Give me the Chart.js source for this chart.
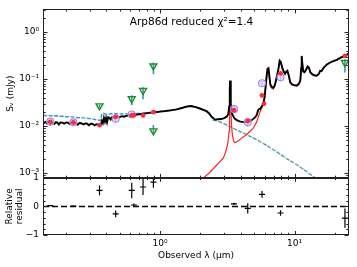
<!DOCTYPE html>
<html><head><meta charset="utf-8">
<script src="https://cdn.jsdelivr.net/npm/chart.js@4/dist/chart.umd.min.js"></script>
<style>html,body{margin:0;padding:0;background:#fff;}canvas{display:block;}</style>
</head><body>
<canvas id="c" width="357" height="267"></canvas>
<script>
// ---------- data ----------
const TITLE = 'Arp86d reduced χ²=1.4';
const X_MIN = 0.135, X_MAX = 25.4;
const Y_MIN = 7.9e-4, Y_MAX = 3.03;

// total model SED (wavelength µm, flux mJy)
const modelWave = [0.1356,0.138,0.141,0.144,0.147,0.150,0.153,0.156,0.160,0.164,0.168,0.172,0.177,0.182,0.188,0.194,0.200,0.207,0.214,0.221,0.228,0.236,0.244,0.252,0.260,0.269,0.278,0.287,0.296,0.306,0.316,0.326,0.336,0.346,0.356,0.364,0.370,0.376,0.383,0.390,0.397,0.404,0.412,0.42,0.43,0.44,0.45,0.46,0.47,0.485,0.50,0.52,0.54,0.56,0.58,0.60,0.63,0.66,0.70,0.75,0.80,0.86,0.92,1.0,1.1,1.2,1.33,1.45,1.6,1.7,1.85,1.98,2.1,2.22,2.32,2.42,2.56,2.7,2.85,3.0,3.13,3.22,3.27,3.30,3.32,3.34,3.37,3.41,3.47,3.58,3.72,3.9,4.16,4.41,4.66,4.9,5.1,5.24,5.34,5.42,5.55,5.7,5.86,5.98,6.1,6.2,6.3,6.4,6.5,6.6,6.75,6.96,7.15,7.37,7.58,7.75,7.9,8.1,8.3,8.5,8.65,8.85,9.05,9.3,9.6,10.0,10.4,10.8,11.05,11.2,11.3,11.4,11.6,11.85,12.2,12.5,12.8,13.1,13.5,14.0,14.6,15.2,15.5,15.9,16.5,17.4,18.4,19.4,20.6,22.0,23.1,24.5,26.0];
const modelFlux = [0.0124,0.0117,0.0122,0.0114,0.0121,0.0120,0.0110,0.0121,0.0119,0.0111,0.0120,0.0119,0.0108,0.0119,0.0118,0.0112,0.0119,0.0118,0.0110,0.0118,0.0117,0.0116,0.0107,0.0116,0.0115,0.0108,0.0114,0.0113,0.0104,0.0112,0.0111,0.0103,0.0109,0.0107,0.0103,0.0106,0.0128,0.0116,0.0150,0.0124,0.0148,0.0120,0.0154,0.0150,0.0138,0.0155,0.0156,0.0147,0.0157,0.0158,0.0154,0.0162,0.0158,0.0165,0.0167,0.0170,0.0172,0.0174,0.0178,0.0183,0.0188,0.0193,0.0197,0.0203,0.0209,0.0216,0.0226,0.0242,0.0262,0.0266,0.0252,0.0236,0.0221,0.0207,0.0186,0.0158,0.0137,0.0139,0.0141,0.0148,0.0158,0.0180,0.0260,0.0600,0.0926,0.0650,0.0300,0.0195,0.0170,0.0145,0.0134,0.0126,0.0121,0.0121,0.0127,0.0140,0.0155,0.0172,0.0210,0.0228,0.0232,0.0262,0.0300,0.0400,0.0700,0.1150,0.1650,0.1700,0.1150,0.0780,0.0680,0.0650,0.0760,0.1100,0.1600,0.2450,0.2300,0.1750,0.1450,0.1300,0.1420,0.1500,0.1200,0.0850,0.0770,0.0740,0.0730,0.0800,0.0950,0.1700,0.3100,0.2300,0.1450,0.1400,0.1600,0.1850,0.1750,0.1400,0.1270,0.1200,0.1180,0.1300,0.1500,0.1480,0.1750,0.2050,0.2250,0.2400,0.2550,0.2850,0.3050,0.3300,0.3650];

// dust emission component
const dustWave = [2.10,2.3,2.5,2.7,2.96,3.1,3.2,3.26,3.29,3.32,3.35,3.39,3.45,3.53,3.61,3.8,4.0,4.41,4.94,5.24,5.54,5.86,5.98,6.1,6.2,6.3,6.4,6.5,6.6,6.75,6.96,7.15,7.37,7.58,7.75,7.9,8.1,8.3,8.5,8.65,8.85,9.05,9.3,9.6,10.0,10.4,10.8,11.05,11.2,11.3,11.4,11.6,11.85,12.2,12.5,12.8,13.1,13.5,14.0,14.6,15.2,15.5,15.9,16.5,17.4,18.4,19.4,20.6,22.0,23.1,24.5,26.0];
const dustFlux = [0.00079,0.00098,0.00125,0.00158,0.0021,0.0030,0.0045,0.0075,0.030,0.079,0.040,0.012,0.0065,0.0048,0.0044,0.0048,0.0054,0.0066,0.0090,0.0124,0.0200,0.0285,0.0375,0.066,0.111,0.161,0.166,0.111,0.0745,0.0645,0.0615,0.0725,0.106,0.156,0.241,0.226,0.171,0.142,0.127,0.139,0.147,0.117,0.083,0.075,0.072,0.071,0.078,0.093,0.168,0.307,0.228,0.143,0.138,0.158,0.183,0.173,0.139,0.126,0.119,0.117,0.129,0.149,0.147,0.174,0.204,0.224,0.239,0.254,0.284,0.304,0.329,0.364];

// unattenuated stellar emission
const unattWave = [0.1356,0.142,0.15,0.16,0.17,0.18,0.19,0.2,0.215,0.23,0.245,0.26,0.28,0.30,0.32,0.34,0.362,0.368,0.38,0.40,0.43,0.46,0.48,0.52,0.56,0.60,0.66,0.75,0.86,1.0,1.1,1.2,1.33,1.45,1.6,1.7,1.85,1.98,2.1,2.22,2.32,2.42,2.49,2.6,2.8,2.96,3.2,3.5,3.9,4.41,5.24,6.2,7.4,8.8,10.4,12.3,14.2];
const unattFlux = [0.0172,0.0166,0.0168,0.0163,0.0165,0.0161,0.0162,0.0158,0.0157,0.0155,0.0150,0.0151,0.0147,0.0144,0.0140,0.0135,0.0131,0.0172,0.0186,0.0176,0.0183,0.0182,0.0184,0.0180,0.0181,0.0183,0.0184,0.0188,0.0195,0.0204,0.0209,0.0216,0.0226,0.0241,0.0260,0.0264,0.0250,0.0233,0.0218,0.0203,0.0180,0.0152,0.0134,0.0130,0.0122,0.0114,0.0102,0.0090,0.0077,0.0066,0.0051,0.0039,0.0028,0.0020,0.00150,0.00108,0.00079];

// attenuated stellar emission
const attWave = [0.1356,0.2,0.3,0.362,0.368,0.40,0.5,0.6,0.75,1.0,1.1,1.2,1.33,1.45,1.6,1.7,1.85,1.98,2.1,2.22,2.32,2.42,2.49,2.6,2.8,2.96,3.2,3.5,3.9,4.41,5.24,6.2,7.4,8.8,10.4,12.3,14.2];
const attFlux = [0.0121,0.0117,0.0110,0.0105,0.0140,0.0150,0.0157,0.0170,0.0183,0.0203,0.0209,0.0216,0.0226,0.0241,0.0260,0.0264,0.0250,0.0233,0.0218,0.0203,0.0180,0.0152,0.0134,0.0130,0.0122,0.0114,0.0102,0.0090,0.0077,0.0066,0.0051,0.0039,0.0028,0.0020,0.00150,0.00108,0.00079];

// observed fluxes
const obsWave = [0.1528,0.2271,0.4686,0.6166,3.55,4.49,5.73,7.87];
const obsFlux = [0.0124,0.0120,0.0143,0.0176,0.0228,0.0121,0.0813,0.109];
const obsErr  = [0.0010,0.0009,0.0025,0.0020,0.0030,0.0025,0.0110,0.0130];

// model fluxes in bands
const modWave = [0.1528,0.2271,0.3551,0.4686,0.6166,0.640,0.748,0.8932,3.55,4.49,5.73,5.93,7.87,23.7];
const modFlux = [0.0123,0.0119,0.0105,0.0157,0.0168,0.0170,0.0168,0.0197,0.0218,0.0128,0.0447,0.0300,0.132,0.310];

// other observed points (triangles)
const limWave = [0.3551,0.6166,0.748,0.8932,0.8932,23.7];
const limFlux = [0.0268,0.0380,0.0570,0.190,0.0079,0.224];
const limLo   = [0.0245,0.0277,0.0370,0.127,0.0070,0.138];
const limHi   = [0.0290,0.0450,0.0670,0.224,0.0105,0.263];

// relative residuals
const resWave = [0.1528,0.2271,0.3551,0.4686,0.6166,0.640,0.748,0.8932,3.55,4.49,5.73,7.87,23.7];
const resVal  = [0.03,0.01,0.56,-0.26,0.56,0.05,0.68,0.85,0.09,-0.07,0.42,-0.23,-0.41];
const resErr  = [0.02,0.01,0.17,0.12,0.27,0.05,0.28,0.20,0.04,0.18,0.12,0.10,0.34];

// tick labels
const xTickVals = [1, 10];       const xTickLabels = ['10⁰', '10¹'];
const yTickVals = [1e-3, 1e-2, 1e-1, 1]; const yTickLabels = ['10⁻³', '10⁻²', '10⁻¹', '10⁰'];
const rTickVals = [-1, 0, 1];    const rTickLabels = ['−1', '0', '1'];

// ---------- helpers ----------
const pts = (xs, ys) => xs.map((x, i) => ({x, y: ys[i]}));
const bars = (xs, lo, hi) => xs.flatMap((x, i) => [{x, y: lo[i]}, {x, y: hi[i]}, {x, y: null}]);
const lab = (vals, labels) => (v) => { const i = vals.findIndex(t => Math.abs(t - v) <= Math.abs(t) * 1e-6 + 1e-9); return i < 0 ? '' : labels[i]; };

Chart.defaults.font.family = '"DejaVu Sans", sans-serif';
Chart.defaults.color = '#000';

const lineDs = (data, extra) => Object.assign({type: 'line', data, yAxisID: 'y', pointRadius: 0, fill: false, tension: 0, spanGaps: false}, extra);

const framePlugin = {
  id: 'frame',
  afterDraw(chart) {
    const ctx = chart.ctx, xs = chart.scales.x, yt = chart.scales.y, yr = chart.scales.yr;
    const L = Math.round(xs.left) + 0.5, R = Math.round(xs.right) - 0.5;
    ctx.save();
    ctx.strokeStyle = '#222'; ctx.lineWidth = 1;
    const panels = [yt, yr];
    panels.forEach(s => ctx.strokeRect(L, Math.round(s.top) + 0.5, R - L, Math.round(s.bottom) - Math.round(s.top) - 1));
    ctx.beginPath();
    for (let e = -1; e <= 1; e++) for (let m = 1; m <= 9; m++) {
      const v = m * Math.pow(10, e);
      if (v < X_MIN || v > X_MAX) continue;
      const px = Math.round(xs.getPixelForValue(v)) + 0.5, len = m === 1 ? 4 : 2.2;
      panels.forEach(s => {
        ctx.moveTo(px, s.top); ctx.lineTo(px, s.top + len);
        ctx.moveTo(px, s.bottom); ctx.lineTo(px, s.bottom - len);
      });
    }
    for (let e = -4; e <= 0; e++) for (let m = 1; m <= 9; m++) {
      const v = m * Math.pow(10, e);
      if (v < Y_MIN || v > Y_MAX) continue;
      const py = Math.round(yt.getPixelForValue(v)) + 0.5, len = m === 1 ? 4 : 2.2;
      ctx.moveTo(L, py); ctx.lineTo(L + len, py);
      ctx.moveTo(R, py); ctx.lineTo(R - len, py);
    }
    for (let k = -5; k <= 5; k++) {
      const v = k / 5;
      const py = Math.round(yr.getPixelForValue(v)) + 0.5, len = k % 5 === 0 ? 4 : 2.2;
      ctx.moveTo(L, py); ctx.lineTo(L + len, py);
      ctx.moveTo(R, py); ctx.lineTo(R - len, py);
    }
    ctx.stroke();
    ctx.font = '10.5px "DejaVu Sans"'; ctx.fillStyle = '#000';
    ctx.textAlign = 'center'; ctx.textBaseline = 'middle';
    ctx.fillText(TITLE, (xs.left + xs.right) / 2 - 4.5, yt.top + 13);
    ctx.restore();
  }
};

new Chart(document.getElementById('c'), {
  type: 'scatter',
  data: { datasets: [
    {type: 'scatter', data: pts(modWave, modFlux), yAxisID: 'y', pointRadius: 2.4, pointBackgroundColor: '#ff2a3a', pointBorderWidth: 0, order: 1},
    {type: 'scatter', data: pts(limWave, limFlux), yAxisID: 'y', pointStyle: 'triangle', rotation: 180, pointRadius: 4, pointBorderColor: '#1c8f1c', pointBackgroundColor: 'rgba(0,0,0,0)', pointBorderWidth: 1.4, order: 2},
    {type: 'scatter', data: pts(obsWave, obsFlux), yAxisID: 'y', pointRadius: 3.5, pointBorderColor: '#a88be8', pointBackgroundColor: 'rgba(210,195,248,0.55)', pointBorderWidth: 1.2, order: 3},
    lineDs(bars(limWave, limLo, limHi), {borderColor: '#3a8fdc', borderWidth: 1.6, order: 4}),
    lineDs(bars(obsWave, obsWave.map((w, i) => obsFlux[i] - obsErr[i]), obsWave.map((w, i) => obsFlux[i] + obsErr[i])), {borderColor: '#b7a0ee', borderWidth: 1.2, order: 4}),
    lineDs(pts(modelWave, modelFlux), {borderColor: '#000', borderWidth: 1.9, order: 5}),
    lineDs(pts(dustWave, dustFlux), {borderColor: '#ff2020', borderWidth: 1.2, order: 6}),
    lineDs(pts(attWave, attFlux), {borderColor: '#f0c419', borderWidth: 1.1, borderDash: [1, 3], order: 7}),
    lineDs(pts(unattWave, unattFlux), {borderColor: '#3a92e0', borderWidth: 1.4, borderDash: [4, 1.5], order: 8}),
    lineDs([{x: X_MIN, y: 0}, {x: X_MAX, y: 0}], {yAxisID: 'yr', borderColor: '#000', borderWidth: 1.4, borderDash: [6, 3], order: 9}),
    lineDs(bars(resWave, resWave.map((w, i) => resVal[i] - resErr[i]), resWave.map((w, i) => resVal[i] + resErr[i])), {yAxisID: 'yr', borderColor: '#000', borderWidth: 1.2, order: 2}),
    {type: 'scatter', data: pts(resWave, resVal), yAxisID: 'yr', pointStyle: 'line', pointRadius: 3, pointBorderColor: '#000', pointBorderWidth: 1.2, order: 1}
  ]},
  options: {
    responsive: false, animation: false, events: [],
    layout: {padding: {left: 0, right: 8, top: 6, bottom: 0}},
    plugins: {legend: {display: false}, tooltip: {enabled: false}},
    scales: {
      x: {
        type: 'logarithmic', position: 'bottom', min: X_MIN, max: X_MAX,
        grid: {display: false, drawTicks: false}, border: {display: false},
        afterBuildTicks: s => { s.ticks = xTickVals.map(v => ({value: v, major: true})); },
        ticks: {callback: lab(xTickVals, xTickLabels), font: {size: 9}, padding: 3, maxRotation: 0, autoSkip: false},
        title: {display: true, text: 'Observed λ (μm)', font: {size: 9}, padding: {top: 0, bottom: 6}},
        afterFit: s => { s.height = 32; }
      },
      yr: {
        type: 'linear', position: 'left', stack: 'panels', stackWeight: 58, min: -1, max: 1, offset: false,
        grid: {display: false, drawTicks: false}, border: {display: false},
        afterBuildTicks: s => { s.ticks = rTickVals.map(v => ({value: v})); },
        ticks: {callback: lab(rTickVals, rTickLabels), font: {size: 9}, padding: 4, autoSkip: false},
        title: {display: true, text: ['Relative', 'residual'], font: {size: 9, lineHeight: 1.12}, padding: {top: 5, bottom: 0}},
        afterFit: s => { s.width = 43; }
      },
      y: {
        type: 'logarithmic', position: 'left', stack: 'panels', stackWeight: 171, min: Y_MIN, max: Y_MAX, offset: false,
        grid: {display: false, drawTicks: false}, border: {display: false},
        afterBuildTicks: s => { s.ticks = yTickVals.map(v => ({value: v, major: true})); },
        ticks: {callback: lab(yTickVals, yTickLabels), font: {size: 9}, padding: 4, autoSkip: false},
        title: {display: true, text: 'Sᵥ (mJy)', font: {size: 9, lineHeight: 1.12}, padding: {top: 6, bottom: 0}},
        afterFit: s => { s.width = 43; }
      }
    }
  },
  plugins: [framePlugin]
});
</script>
</body></html>
